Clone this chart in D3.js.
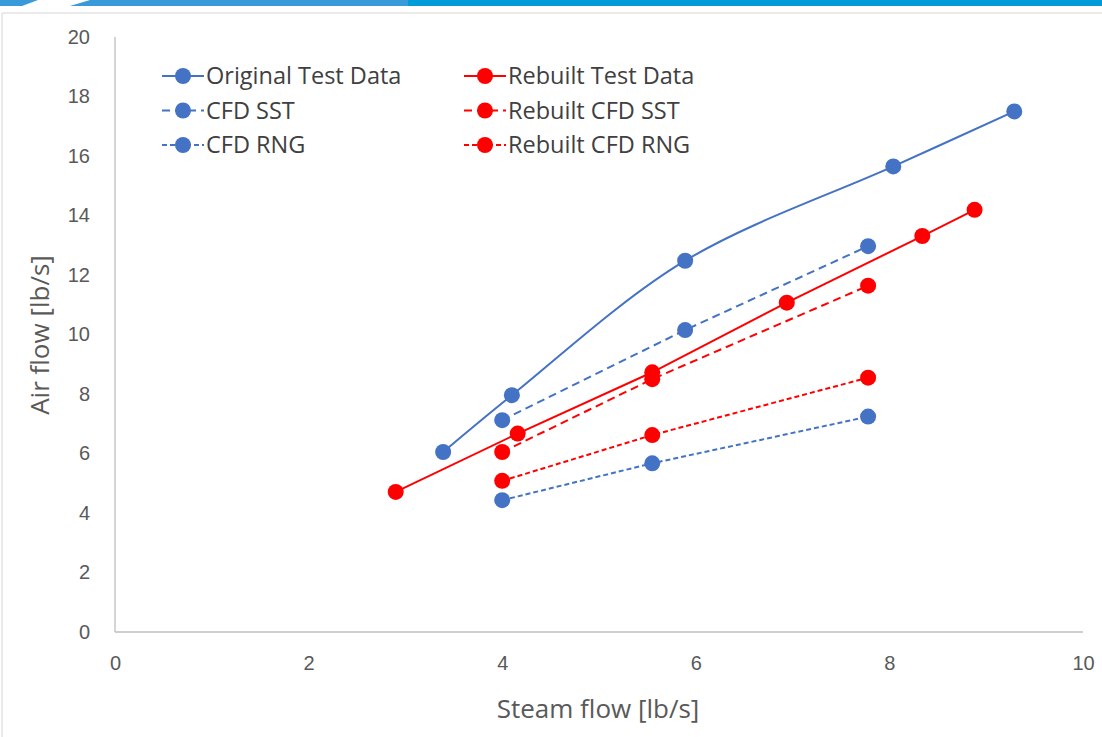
<!DOCTYPE html>
<html lang="en">
<head>
  <meta charset="UTF-8">
  <title>Air flow vs Steam flow</title>
  <script src="https://d3js.org/d3.v7.min.js"></script>
  <style>
    body { margin: 0; background: #fff; }
    svg { display: block; font-family: "Open Sans", Lato, sans-serif; }
    .axis text { fill: #595959; font-size: 20px; }
    .axis path { stroke: #bfbfbf; stroke-width: 1.3; }
    .axis-label { fill: #595959; font-size: 26px; }
    .legend text { fill: #404040; font-size: 23.5px; }
  </style>
</head>
<body>
  <svg width="1102" height="737"></svg>
  <script>
    // series data
    const origSteam = [3.39, 4.10, 5.89, 8.04, 9.29];
    const origAir   = [6.05, 7.96, 12.48, 15.65, 17.50];

    const sstSteam = [4.00, 5.89, 7.78];
    const sstAir   = [7.12, 10.15, 12.97];

    const rngSteam = [4.00, 5.55, 7.78];
    const rngAir   = [4.43, 5.67, 7.24];

    const rebTestSteam = [2.90, 4.16, 5.55, 6.94, 8.34, 8.88];
    const rebTestAir   = [4.71, 6.67, 8.73, 11.07, 13.31, 14.19];

    const rebSstSteam = [4.00, 5.55, 7.78];
    const rebSstAir   = [6.05, 8.50, 11.64];

    const rebRngSteam = [4.00, 5.55, 7.78];
    const rebRngAir   = [5.08, 6.62, 8.55];

    const xTicks = [0, 2, 4, 6, 8, 10];
    const yTicks = [0, 2, 4, 6, 8, 10, 12, 14, 16, 18, 20];

    const blue = "#4472C4", red = "#FF0000";

    const series = [
      { name: "Original Test Data", xs: origSteam, ys: origAir, color: blue, dash: null, smooth: true },
      { name: "CFD SST", xs: sstSteam, ys: sstAir, color: blue, dash: "8,5" },
      { name: "CFD RNG", xs: rngSteam, ys: rngAir, color: blue, dash: "5,3" },
      { name: "Rebuilt Test Data", xs: rebTestSteam, ys: rebTestAir, color: red, dash: null },
      { name: "Rebuilt CFD SST", xs: rebSstSteam, ys: rebSstAir, color: red, dash: "8,5" },
      { name: "Rebuilt CFD RNG", xs: rebRngSteam, ys: rebRngAir, color: red, dash: "5,3" }
    ];

    const svg = d3.select("svg");

    // slide decoration: top band and chart frame
    svg.append("rect").attr("x", 0).attr("y", 0).attr("width", 408).attr("height", 6).attr("fill", "#3a9ad9");
    svg.append("rect").attr("x", 408).attr("y", 0).attr("width", 694).attr("height", 6).attr("fill", "#009cd8");
    svg.append("polygon").attr("points", "22,6 38,0 90,0 70,6").attr("fill", "#fff");
    svg.append("line").attr("x1", 2).attr("x2", 1102).attr("y1", 13).attr("y2", 13)
       .attr("stroke", "#e3e3e3").attr("stroke-width", 1.5);
    svg.append("line").attr("x1", 2).attr("x2", 2).attr("y1", 13).attr("y2", 737)
       .attr("stroke", "#e3e3e3").attr("stroke-width", 1.5);

    const x = d3.scaleLinear().domain([0, 10]).range([115, 1083]);
    const y = d3.scaleLinear().domain([0, 20]).range([632, 37]);

    svg.append("g")
       .attr("class", "axis")
       .attr("transform", "translate(0,632)")
       .call(d3.axisBottom(x).tickValues(xTicks).tickSize(0).tickPadding(24))
       .call(g => g.select(".domain").attr("d", `M${x(0)},0H${x(10)}`));

    svg.append("g")
       .attr("class", "axis")
       .attr("transform", "translate(115,0)")
       .call(d3.axisLeft(y).tickValues(yTicks).tickSize(0).tickPadding(25))
       .call(g => g.select(".domain").attr("d", `M0,${y(0)}V${y(20)}`));

    svg.append("text")
       .attr("class", "axis-label")
       .attr("x", 598).attr("y", 718)
       .attr("text-anchor", "middle")
       .text("Steam flow [lb/s]");

    svg.append("text")
       .attr("class", "axis-label")
       .attr("transform", "translate(49,335) rotate(-90)")
       .attr("text-anchor", "middle")
       .text("Air flow [lb/s]");

    // lines then markers
    series.forEach(s => {
      const pts = s.xs.map((v, i) => [v, s.ys[i]]);
      const line = d3.line()
        .x(d => x(d[0])).y(d => y(d[1]))
        .curve(s.smooth ? d3.curveCatmullRom.alpha(0.5) : d3.curveLinear);
      svg.append("path")
         .datum(pts)
         .attr("d", line)
         .attr("fill", "none")
         .attr("stroke", s.color)
         .attr("stroke-width", 2)
         .attr("stroke-dasharray", s.dash);
    });

    series.forEach(s => {
      const pts = s.xs.map((v, i) => [v, s.ys[i]]);
      svg.append("g").selectAll("circle")
         .data(pts)
         .enter().append("circle")
         .attr("cx", d => x(d[0]))
         .attr("cy", d => y(d[1]))
         .attr("r", 8)
         .attr("fill", s.color);
    });

    // legend, two columns of three rows
    const legend = svg.append("g").attr("class", "legend");
    series.forEach((s, i) => {
      const col = i < 3 ? 0 : 1;
      const row = i % 3;
      const lx = col === 0 ? 162 : 464;
      const ly = 76 + row * 34.5;
      const g = legend.append("g").attr("transform", `translate(${lx},${ly})`);
      g.append("line")
       .attr("x1", 0).attr("x2", 42).attr("y1", 0).attr("y2", 0)
       .attr("stroke", s.color).attr("stroke-width", 2)
       .attr("stroke-dasharray", s.dash);
      g.append("circle").attr("cx", 21).attr("cy", 0).attr("r", 8).attr("fill", s.color);
      g.append("text").attr("x", 44).attr("y", 0).attr("dy", "0.35em").text(s.name);
    });
  </script>
</body>
</html>
